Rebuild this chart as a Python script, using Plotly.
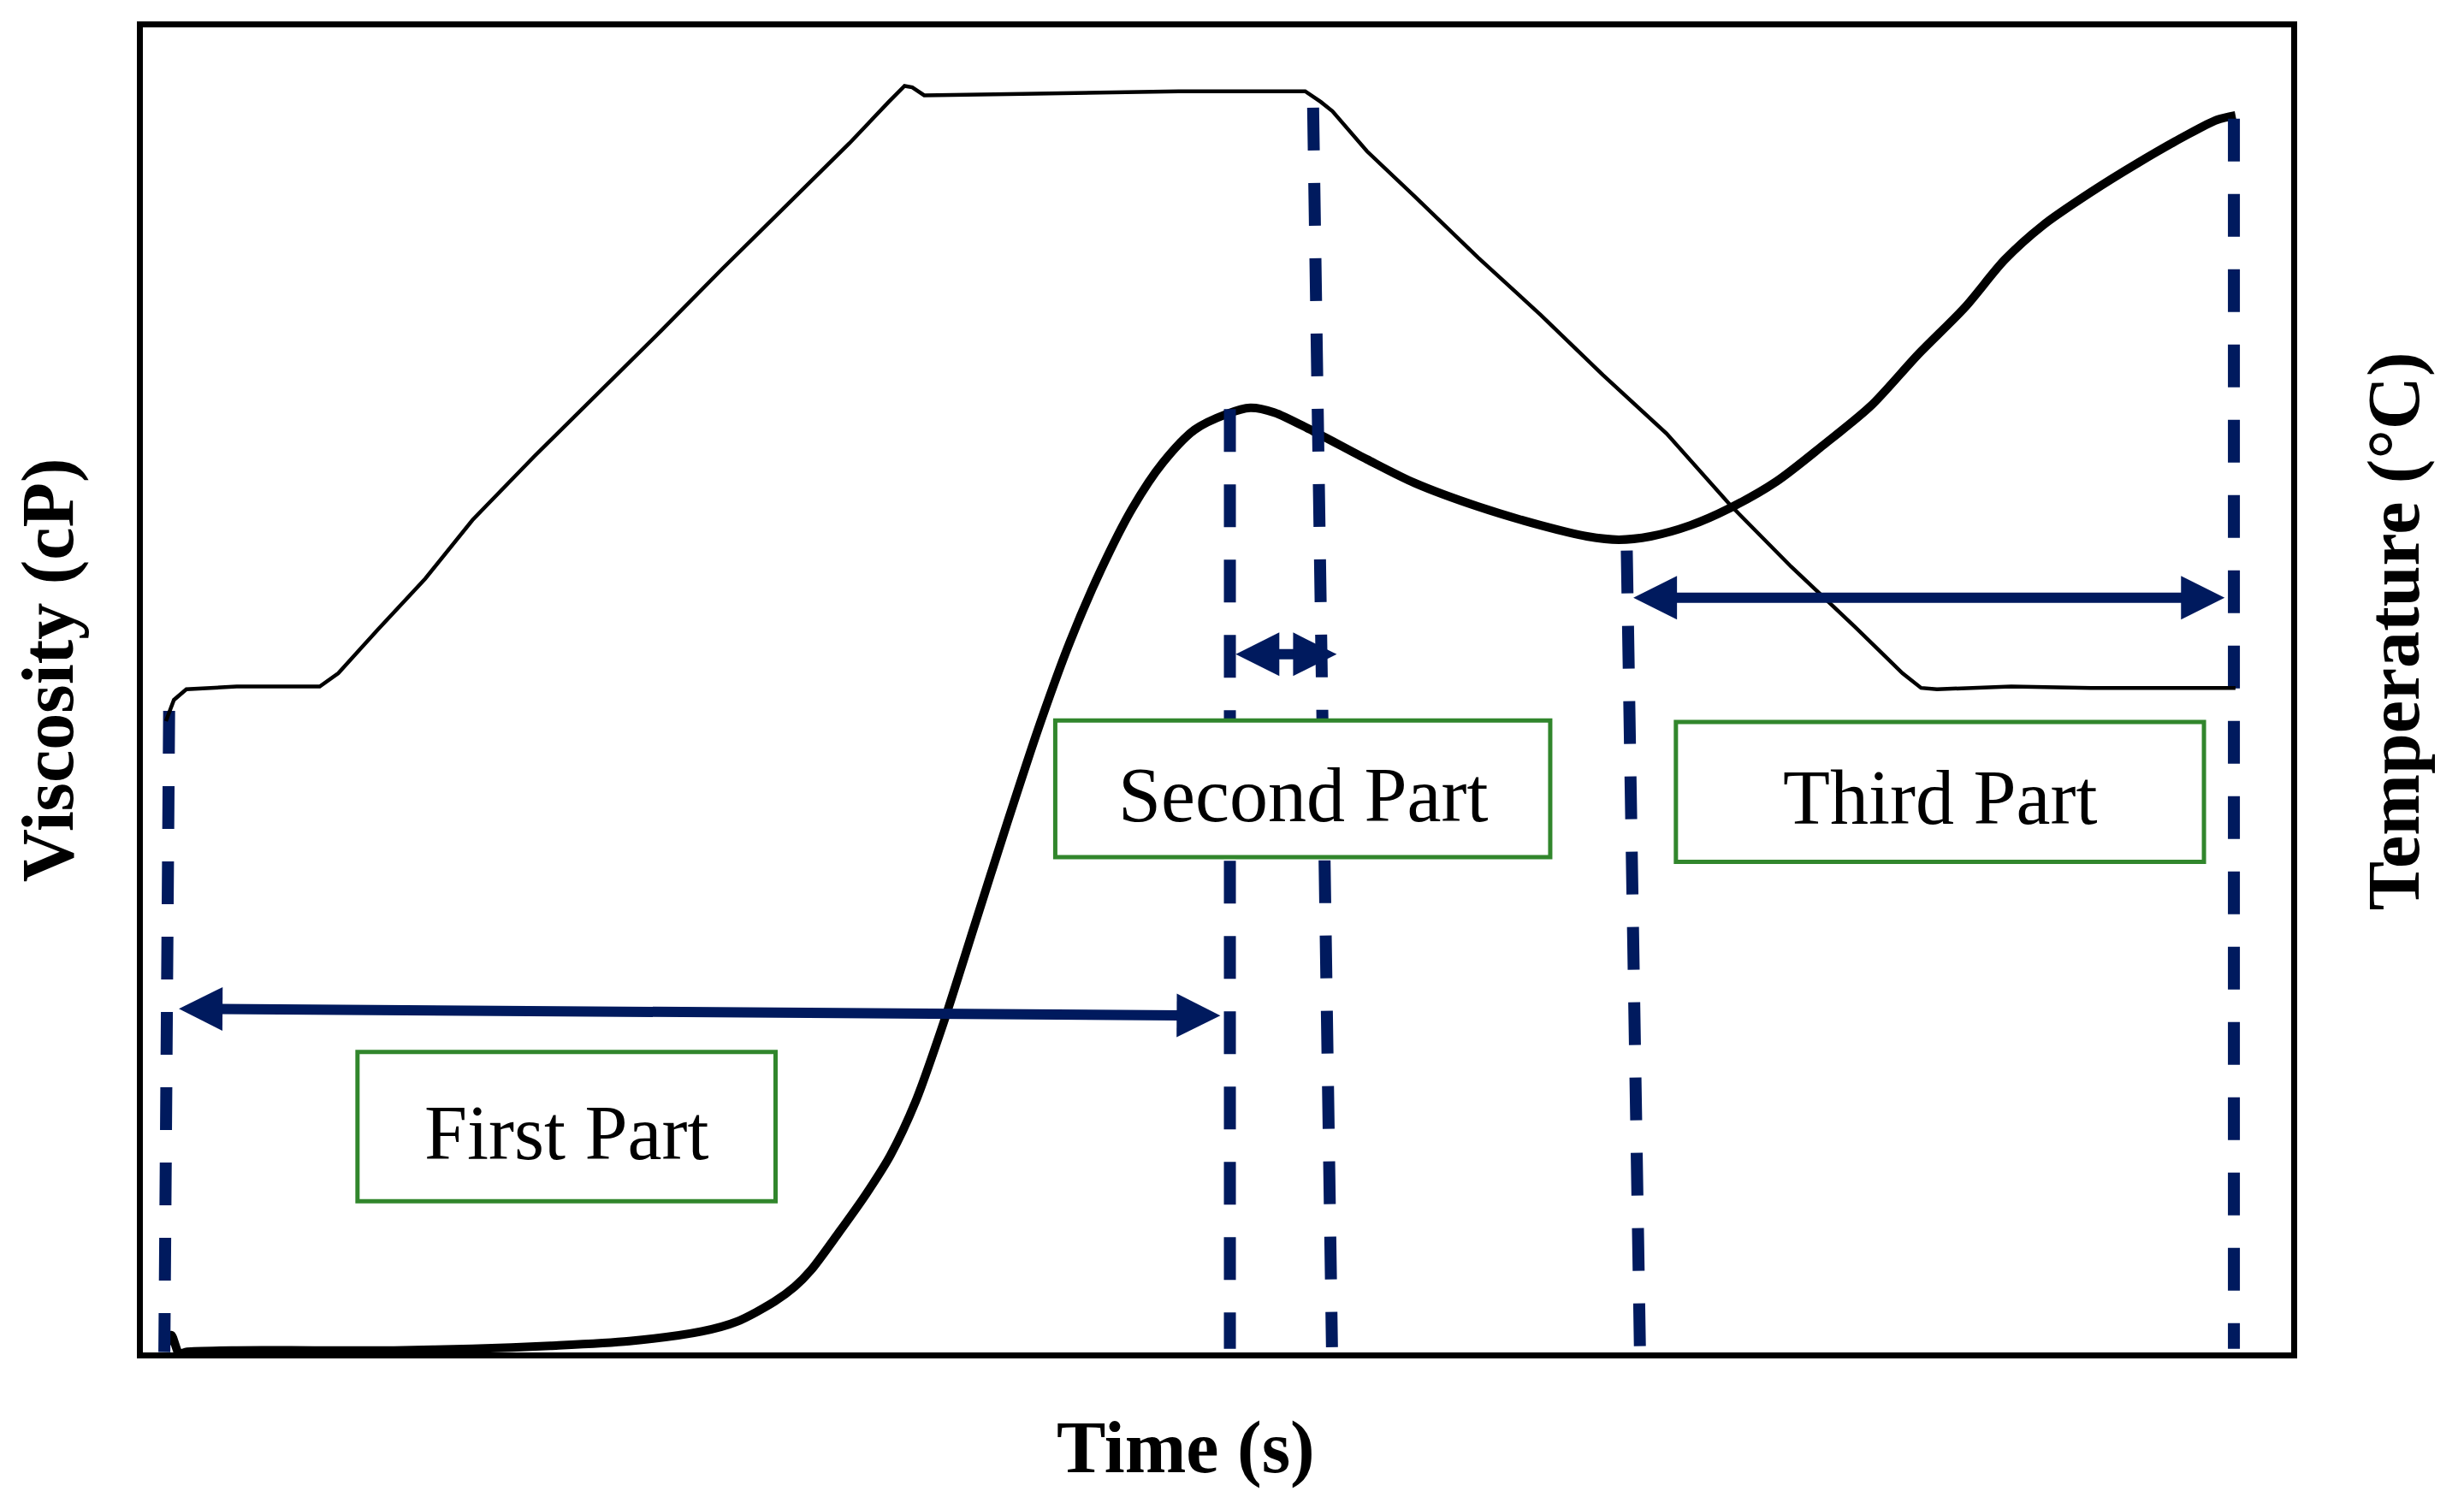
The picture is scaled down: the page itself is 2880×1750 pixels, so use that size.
import plotly.graph_objects as go

# ---- Viscosity curve (time s, viscosity cP) ----
visc_time = [0, 2, 5, 8, 26.7, 56, 86, 115.6, 145, 174.8, 202.1, 215.2, 229.4, 237.1, 243.3, 254,
             263.8, 273.2, 282.7, 293.4, 305, 317, 329, 341, 352.7, 364.5, 376, 388, 400, 409, 418,
             432.7, 453, 471, 495, 518.6, 536, 548, 560, 575, 589.7, 607.5, 625, 643, 661, 678.6,
             693.5, 708, 726, 744, 761.6, 773.5, 780.6]
visc_cp = [30, 60, 5, 10, 14, 14, 14, 19, 28, 42, 71, 100, 160, 205, 255, 370,
           480, 599, 760, 1000, 1290, 1590, 1880, 2142, 2358, 2542, 2679, 2778, 2825, 2844, 2830,
           2774, 2689, 2618, 2547, 2491, 2458, 2448, 2458, 2491, 2542, 2623, 2731, 2849, 3005, 3146,
           3288, 3392, 3491, 3580, 3660, 3708, 3722]

# ---- Temperature profile (time s, °C) ----
temp_time = [0, 3, 7.7, 26.7, 44.5, 58, 65, 80, 97.8, 115.6, 139, 163, 186.7, 210, 234, 257.8,
             272.6, 278.6, 281.5, 286, 323, 382, 429.7, 435.6, 440, 453, 471, 495, 518.6, 542,
             566, 578, 589.7, 613, 637, 655, 662, 668, 696, 726, 780.6]
temp_c = [47.6, 49.2, 50.0, 50.2, 50.2, 50.2, 51.2, 54.5, 58.3, 62.7, 67.5, 72.2, 76.9, 81.6, 86.3, 91.0,
          94.1, 95.3, 95.2, 94.6, 94.7, 94.9, 94.9, 94.1, 93.4, 90.4, 87.0, 82.4, 78.1, 73.6,
          69.2, 66.5, 63.9, 59.2, 54.7, 51.2, 50.1, 50.0, 50.2, 50.1, 50.1]

# ---- Boundary markers (dashed lines): time at top/bottom, viscosity at top/bottom ----
mark_t_top = [1.2, 401.3, 432.7, 551, 780]
mark_t_bot = [-0.6, 401.3, 439.8, 556, 780]
mark_v_top = [1934, 2840, 3745, 2415, 3712]
mark_v_bot = [9, 19, 24, 0, 19]

# ---- Double arrows spanning each part ----
arrow_t_start = [4.4, 403, 553]
arrow_t_end = [397.7, 441.6, 776.5]
arrow_v_start = [1040, 2104, 2274]
arrow_v_end = [1019, 2104, 2274]

# ---- Part label boxes (paper coords) ----
part_labels = ["First Part", "Second Part", "Third Part"]
box_x0 = [0.0999, 0.4247, 0.7136]
box_x1 = [0.2945, 0.6551, 0.9594]
box_y0 = [0.1141, 0.3738, 0.3703]
box_y1 = [0.2267, 0.4770, 0.4758]

NAVY = "#001A5E"
GREEN = "#31862C"
SERIF = "Liberation Serif, Times New Roman, serif"

fig = go.Figure()

fig.add_trace(go.Scatter(x=temp_time, y=temp_c, mode="lines", yaxis="y2",
                         line=dict(color="black", width=4.5), showlegend=False, hoverinfo="skip"))
fig.add_trace(go.Scatter(x=visc_time, y=visc_cp, mode="lines",
                         line=dict(color="black", width=10, shape="spline", smoothing=0.8),
                         showlegend=False, hoverinfo="skip"))

for i in range(len(mark_t_top)):
    fig.add_trace(go.Scatter(x=[mark_t_top[i], mark_t_bot[i]], y=[mark_v_top[i], mark_v_bot[i]],
                             mode="lines", line=dict(color=NAVY, width=14, dash="50px,38px"),
                             showlegend=False, hoverinfo="skip"))

annotations = []
for i in range(len(arrow_t_start)):
    annotations.append(dict(x=arrow_t_end[i], y=arrow_v_end[i], ax=arrow_t_start[i], ay=arrow_v_start[i],
                            xref="x", yref="y", axref="x", ayref="y", text="", showarrow=True,
                            arrowside="end+start", arrowhead=2, startarrowhead=2,
                            arrowsize=0.85, startarrowsize=0.85, arrowwidth=12, arrowcolor=NAVY,
                            standoff=0, startstandoff=0))

shapes = []
for i, lab in enumerate(part_labels):
    shapes.append(dict(type="rect", xref="paper", yref="paper",
                       x0=box_x0[i], x1=box_x1[i], y0=box_y0[i], y1=box_y1[i],
                       line=dict(color=GREEN, width=5), fillcolor="white", layer="above"))
    annotations.append(dict(x=(box_x0[i] + box_x1[i]) / 2, y=(box_y0[i] + box_y1[i]) / 2,
                            xref="paper", yref="paper", text=lab, showarrow=False, yshift=-7,
                            font=dict(family=SERIF, size=90, color="black"),
                            xanchor="center", yanchor="middle"))

annotations.append(dict(x=-0.0442, y=0.515, xref="paper", yref="paper", text="<b>Viscosity (cP)</b>",
                        showarrow=False, textangle=-90, font=dict(family=SERIF, size=86, color="black"),
                        xanchor="center", yanchor="middle"))
annotations.append(dict(x=1.0478, y=0.544, xref="paper", yref="paper", text="<b>Temperature (°C)</b>",
                        showarrow=False, textangle=-90, font=dict(family=SERIF, size=86, color="black"),
                        xanchor="center", yanchor="middle"))
annotations.append(dict(x=0.4855, y=-0.0719, xref="paper", yref="paper", text="<b>Time (s)</b>",
                        showarrow=False, font=dict(family=SERIF, size=86, color="black"),
                        xanchor="center", yanchor="middle"))

fig.update_layout(
    width=2880, height=1750,
    margin=dict(l=159, r=210, t=24, b=177),
    paper_bgcolor="white", plot_bgcolor="white",
    xaxis=dict(range=[-8.7, 801.6], showgrid=False, zeroline=False, showticklabels=False, ticks="",
               showline=True, mirror=True, linecolor="black", linewidth=7),
    yaxis=dict(range=[8, 3986], showgrid=False, zeroline=False, showticklabels=False, ticks="",
               showline=True, mirror=True, linecolor="black", linewidth=7),
    yaxis2=dict(range=[0.2, 99.7], overlaying="y", side="right", showgrid=False, zeroline=False,
                showticklabels=False, ticks="", showline=False),
    shapes=shapes,
    annotations=annotations,
)

fig.write_html("out.html")
